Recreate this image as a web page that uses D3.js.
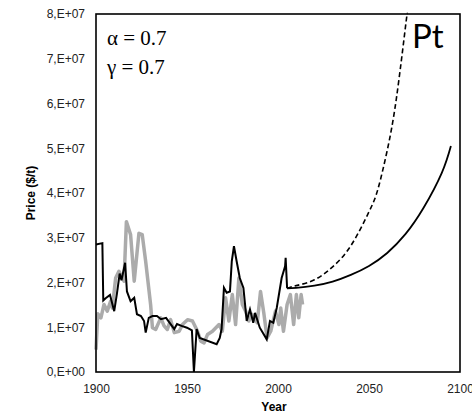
<!DOCTYPE html>
<html>
<head>
<meta charset="utf-8">
<script src="https://cdn.jsdelivr.net/npm/d3@7"></script>
<style>
  body { margin: 0; background: #fff; }
  #wrapper { width: 472px; height: 414px; }
</style>
</head>
<body>
<div id="wrapper"></div>
<script>
// values in units of 1e7 $/t
const observedYears = [1900, 1901, 1902.7, 1904.4, 1906.2, 1908, 1909, 1910.8, 1912.6, 1914.5, 1915.4, 1916.7, 1919, 1921, 1923.6, 1925.4, 1927.3, 1930, 1931, 1932.8, 1935.6, 1937.4, 1939.2, 1941, 1943, 1945.7, 1947.5, 1950.3, 1953, 1955.8, 1957.6, 1959.4, 1961.3, 1964, 1967.6, 1969.4, 1971.2, 1973, 1974.9, 1976.7, 1978.5, 1980.4, 1982.2, 1984, 1985.8, 1988.6, 1990.4, 1992.2, 1994, 1996, 1998.6, 2000.5, 2001.5, 2003, 2005, 2006.8, 2008.6, 2010.1, 2011.4, 2012.7, 2013.5];
const observedPrice = [0.5, 1.3, 1.21, 1.51, 1.36, 1.58, 1.43, 2.1, 2.25, 2.1, 2.03, 3.36, 3.07, 2.03, 3.1, 3.07, 2.47, 1.51, 0.99, 0.95, 1.21, 1.03, 0.95, 1.17, 0.88, 0.91, 1.06, 1.17, 1.14, 0.91, 0.69, 0.65, 0.84, 0.91, 1.06, 0.91, 1.66, 1.14, 1.73, 1.06, 2.1, 1.51, 1.36, 1.14, 1.29, 1.1, 1.8, 1.32, 0.76, 0.91, 1.36, 1.06, 1.43, 0.91, 1.51, 1.73, 1.06, 1.73, 1.21, 1.73, 1.51];

const modelYears = [1900, 1903.5, 1904, 1905.3, 1907.7, 1910, 1911.5, 1913, 1914, 1916, 1917, 1919, 1921, 1922.5, 1924.7, 1926.4, 1927.3, 1929, 1931, 1933.5, 1935.7, 1938.5, 1941, 1943, 1944.5, 1947, 1950, 1952.7, 1953.8, 1955.3, 1957, 1966.3, 1968, 1969, 1970.3, 1971.8, 1973.6, 1974.6, 1975.8, 1977.3, 1979, 1981, 1982.8, 1984.6, 1986.4, 1987.4, 1990, 1993.8, 1995.6, 1997.4, 1999.3, 2002, 2003.9, 2004.2, 2005];
const modelPrice = [2.85, 2.88, 1.6, 1.65, 1.72, 1.36, 1.75, 2.2, 2.05, 2.44, 1.8, 1.58, 1.66, 1.29, 1.25, 1.14, 0.88, 1.21, 1.25, 1.25, 1.18, 1.21, 1.07, 0.96, 1.07, 1.03, 0.99, 0.93, 0, 0.96, 0.76, 0.62, 0.76, 0.96, 1.88, 1.77, 1.8, 2.47, 2.81, 2.47, 2.1, 1.88, 1.14, 1.4, 1.1, 1.32, 0.99, 0.73, 1.14, 1.1, 1.43, 2.1, 2.36, 2.55, 1.87];

const projYears = [2005, 2010, 2020, 2030, 2040, 2050, 2060, 2070, 2080, 2090, 2095];
const projPrice = [1.87, 1.88, 1.93, 2.02, 2.17, 2.37, 2.66, 3.08, 3.67, 4.45, 5.05];

const projDashYears = [2005, 2010, 2020, 2030, 2040, 2050, 2055, 2060, 2065, 2070, 2071];
const projDashPrice = [1.87, 1.93, 2.06, 2.35, 2.82, 3.58, 4.1, 4.95, 6.1, 7.7, 8.0];

const yTicks = [0, 1, 2, 3, 4, 5, 6, 7, 8];
const xTicks = [1900, 1950, 2000, 2050, 2100];

function drawChart() {
  const dimensions = {
    width: 472,
    height: 414,
    margin: { top: 14, right: 12, bottom: 42, left: 96 },
  };
  dimensions.boundedWidth =
    dimensions.width - dimensions.margin.left - dimensions.margin.right;
  dimensions.boundedHeight =
    dimensions.height - dimensions.margin.top - dimensions.margin.bottom;

  const zip = (xs, ys) => xs.map((x, i) => ({ x, y: ys[i] }));

  // Scales
  const xScale = d3.scaleLinear().domain([1900, 2100]).range([0, dimensions.boundedWidth]);
  const yScale = d3.scaleLinear().domain([0, 8]).range([dimensions.boundedHeight, 0]);

  // Canvas
  const svg = d3
    .select('#wrapper')
    .append('svg')
    .attr('width', dimensions.width)
    .attr('height', dimensions.height);

  const bounds = svg
    .append('g')
    .attr('transform', `translate(${dimensions.margin.left}, ${dimensions.margin.top})`);

  // Axes
  const yAxis = d3
    .axisLeft(yScale)
    .tickValues(yTicks)
    .tickSize(0)
    .tickPadding(11)
    .tickFormat((d) => (d === 0 ? '0,E+00' : `${d},E+07`));
  const yAxisG = bounds.append('g').call(yAxis);
  yAxisG.select('.domain').remove();

  const xAxis = d3
    .axisBottom(xScale)
    .tickValues(xTicks)
    .tickSize(0)
    .tickPadding(12)
    .tickFormat(d3.format('d'));
  const xAxisG = bounds
    .append('g')
    .attr('transform', `translate(0, ${dimensions.boundedHeight})`)
    .call(xAxis);
  xAxisG.select('.domain').remove();

  svg
    .selectAll('.tick text')
    .attr('fill', '#222')
    .style('font-family', '"Liberation Sans", Arial, sans-serif')
    .style('font-size', '12px');

  // Axis labels
  bounds
    .append('text')
    .attr('x', dimensions.boundedWidth / 2 - 4)
    .attr('y', dimensions.boundedHeight + 39)
    .attr('text-anchor', 'middle')
    .style('font-family', '"Liberation Sans", Arial, sans-serif')
    .style('font-size', '12px')
    .style('font-weight', 'bold')
    .text('Year');

  svg
    .append('text')
    .attr('transform', 'translate(35, 193) rotate(-90)')
    .attr('text-anchor', 'middle')
    .style('font-family', '"Liberation Sans", Arial, sans-serif')
    .style('font-size', '12px')
    .style('font-weight', 'bold')
    .text('Price ($/t)');

  // Lines
  const line = d3
    .line()
    .x((d) => xScale(d.x))
    .y((d) => yScale(d.y));

  bounds
    .append('path')
    .attr('d', line(zip(observedYears, observedPrice)))
    .attr('fill', 'none')
    .attr('stroke', '#ababab')
    .attr('stroke-width', 3.5)
    .attr('stroke-linejoin', 'round');

  bounds
    .append('path')
    .attr('d', line(zip(modelYears, modelPrice)))
    .attr('fill', 'none')
    .attr('stroke', '#000')
    .attr('stroke-width', 2);

  const smooth = line.curve(d3.curveNatural);
  bounds
    .append('path')
    .attr('d', smooth(zip(projYears, projPrice)))
    .attr('fill', 'none')
    .attr('stroke', '#000')
    .attr('stroke-width', 1.8);

  bounds
    .append('path')
    .attr('d', smooth(zip(projDashYears, projDashPrice)))
    .attr('fill', 'none')
    .attr('stroke', '#000')
    .attr('stroke-width', 1.6)
    .attr('stroke-dasharray', '5,3');

  // Frame
  bounds
    .append('rect')
    .attr('width', dimensions.boundedWidth)
    .attr('height', dimensions.boundedHeight)
    .attr('fill', 'none')
    .attr('stroke', '#000')
    .attr('stroke-width', 1.6);

  // Annotations
  const notes = bounds
    .append('g')
    .style('font-family', '"Liberation Serif", "Times New Roman", serif')
    .style('font-size', '21px');
  notes.append('text').attr('x', 11).attr('y', 31).text('α = 0.7');
  notes.append('text').attr('x', 11).attr('y', 60).text('γ = 0.7');

  bounds
    .append('text')
    .attr('x', 316)
    .attr('y', 34)
    .style('font-family', 'Lato, "Open Sans", sans-serif')
    .style('font-size', '33px')
    .text('Pt');
}
drawChart();
</script>
</body>
</html>
